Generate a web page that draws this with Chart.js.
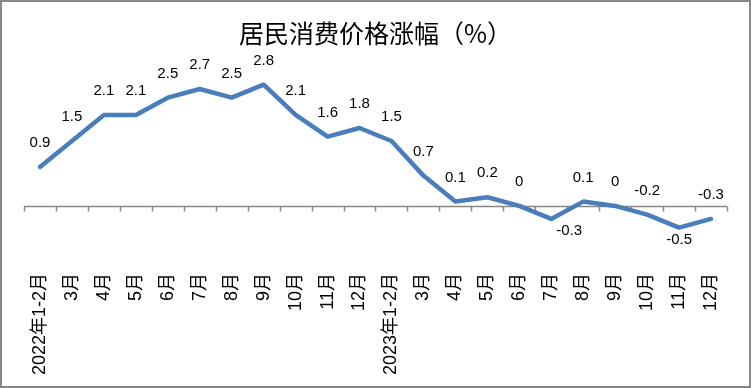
<!DOCTYPE html>
<html>
<head>
<meta charset="utf-8">
<script src="https://cdn.jsdelivr.net/npm/chart.js@4"></script>
<style>
  html, body { margin: 0; padding: 0; background: #fff; }
  #wrap { width: 751px; height: 388px; box-sizing: border-box; border: 2px solid #878787; position: relative; }
</style>
</head>
<body>
<div id="wrap"><canvas id="chart_cpi"></canvas></div>
<script>
// categorii si valori (CPI, %)
const months = ['2022年1-2月', '3月', '4月', '5月', '6月', '7月', '8月', '9月', '10月', '11月', '12月',
                '2023年1-2月', '3月', '4月', '5月', '6月', '7月', '8月', '9月', '10月', '11月', '12月'];
const cpiValues = [0.9, 1.5, 2.1, 2.1, 2.5, 2.7, 2.5, 2.8, 2.1, 1.6, 1.8,
                   1.5, 0.7, 0.1, 0.2, 0, -0.3, 0.1, 0, -0.2, -0.5, -0.3];
const chartTitle = '居民消费价格涨幅（%）';

const lineColor = '#4a7ebb';
const axisColor = '#868686';
const belowLabels = [16, 20]; // etichete puse sub punct

// axa de la zero + liniutele dintre categorii
const zeroAxis = {
    id: 'zeroAxis',
    beforeDatasetsDraw(chart) {
        const c = chart.ctx;
        const x = chart.scales.x;
        const y0 = Math.round(chart.scales.y.getPixelForValue(0)) + 0.5;
        const half = (x.getPixelForValue(1) - x.getPixelForValue(0)) / 2;
        c.save();
        c.strokeStyle = axisColor;
        c.lineWidth = 1.5;
        c.beginPath();
        c.moveTo(chart.chartArea.left, y0);
        c.lineTo(chart.chartArea.right, y0);
        for (let i = 0; i <= months.length; i++) {
            const px = Math.round(x.getPixelForValue(i) - half) + 0.5;
            c.moveTo(px, y0);
            c.lineTo(px, y0 + 5);
        }
        c.stroke();
        c.restore();
    }
};

// etichetele cu valori
const valueLabels = {
    id: 'valueLabels',
    afterDatasetsDraw(chart) {
        const c = chart.ctx;
        const meta = chart.getDatasetMeta(0);
        c.save();
        c.font = '15px "Liberation Sans", "Noto Sans CJK SC", sans-serif';
        c.fillStyle = '#000';
        c.textAlign = 'center';
        c.textBaseline = 'middle';
        meta.data.forEach((pt, i) => {
            const below = belowLabels.includes(i);
            const dx = i === 16 ? 18 : 0;
            const dy = below ? 12 : -24;
            c.fillText(String(cpiValues[i]), pt.x + dx, pt.y + dy);
        });
        c.restore();
    }
};

const ctx = document.getElementById('chart_cpi').getContext('2d');

const cpiChart = new Chart(ctx, {
    type: 'line',
    data: {
        labels: months,
        datasets: [{
            label: chartTitle,
            data: cpiValues,
            borderColor: lineColor,
            borderWidth: 4.5,
            borderCapStyle: 'round',
            borderJoinStyle: 'round',
            pointRadius: 0,
            fill: false,
            tension: 0
        }]
    },
    options: {
        responsive: true,
        maintainAspectRatio: false,
        animation: false,
        layout: {
            padding: { left: 22, right: 22, top: 0, bottom: 7 }
        },
        scales: {
            x: {
                offset: true,
                grid: { display: false },
                border: { display: false },
                ticks: {
                    autoSkip: false,
                    minRotation: 90,
                    maxRotation: 90,
                    padding: 4,
                    color: '#000',
                    font: { size: 18, family: '"Liberation Sans", "Noto Sans CJK SC", sans-serif' }
                }
            },
            y: {
                display: false,
                min: -1.27,
                max: 3
            }
        },
        plugins: {
            legend: { display: false },
            tooltip: { enabled: false },
            title: {
                display: true,
                text: chartTitle,
                color: '#000',
                padding: { top: 16, bottom: 28 },
                font: { size: 25, weight: 'normal', family: '"Noto Sans CJK SC", sans-serif' }
            }
        }
    },
    plugins: [zeroAxis, valueLabels]
});
</script>
</body>
</html>
